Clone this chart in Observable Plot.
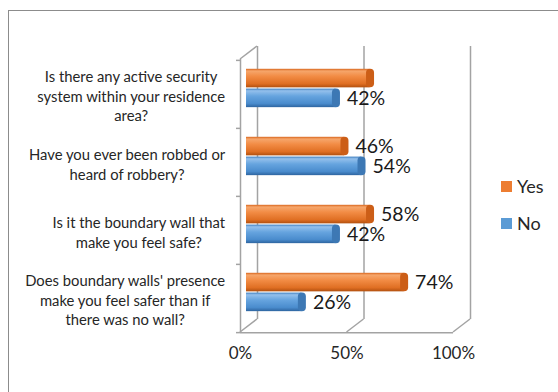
<!DOCTYPE html>
<html><head><meta charset="utf-8">
<script src="https://cdn.jsdelivr.net/npm/d3@7"></script>
<script src="https://cdn.jsdelivr.net/npm/@observablehq/plot@0.6"></script>
<style>
html,body{margin:0;padding:0;background:#fff;}
#wrap{position:relative;width:558px;height:392px;overflow:hidden;font-family:Lato,sans-serif;}
#border{position:absolute;left:8px;top:10px;width:700px;height:500px;border-left:1px solid #8c8c8c;border-top:1px solid #8c8c8c;}
#chart{position:absolute;left:0;top:0;}
.lg{position:absolute;left:501px;font-size:18px;color:#262626;display:flex;align-items:center;line-height:1;}
.lg .sw{width:11px;height:11px;display:inline-block;margin-right:5px;}
</style></head><body>
<div id="wrap"><div id="border"></div><div id="chart"></div><div id="legend"></div></div>
<script>
// ---- data ----
const categories = [
  "Is there any active security\nsystem within your residence\narea?",
  "Have you ever been robbed or\nheard of robbery?",
  "Is it the boundary wall that\nmake you feel safe?",
  "Does boundary walls' presence\nmake you feel safer than if\nthere was no wall?"
];
const series = ["Yes", "No"];
const yesValues = [0.58, 0.46, 0.58, 0.74];
const noValues  = [0.42, 0.54, 0.42, 0.26];
const yesLabelShown = [false, true, true, true];
const noLabelShown  = [true, true, true, true];
const xTicks = [0, 0.5, 1];
const seriesColors = {Yes: "#ED7D31", No: "#5B9BD5"};
const capColors = {Yes: "#cc5e17", No: "#3d78b4"};

// ---- layout ----
const W = 558, H = 392, ML = 240, MR = 105, MT = 59, MB = 60;
const DX = 17, DY = -13;            // 3D depth offset
const wall = "#a3a3a3";
const step = (H - MT - MB) / categories.length;
const fmt = d3.format(".0%");
const catPx = 14.8;
const catFont = catPx + "px Lato";

const rows = [];
categories.forEach((c, i) => {
  rows.push({question: c, series: "Yes", value: yesValues[i], shown: yesLabelShown[i]});
  rows.push({question: c, series: "No", value: noValues[i], shown: noLabelShown[i]});
});
const yesRows = rows.filter(d => d.series === "Yes");
const noRows = rows.filter(d => d.series === "No");

// bar geometry inside each band (front plane)
const yesInset = {insetTop: 15.3, insetBottom: 34.15};
const noInset = {insetTop: 35.1, insetBottom: 14.35};
const barShift = {dx: 6, dy: -6.5};

// measure widest line of each category label to center lines like Excel
const ctx = document.createElement("canvas").getContext("2d");
ctx.font = catFont;
const labelMarks = categories.map(c => {
  const w = d3.max(c.split("\n"), s => ctx.measureText(s).width);
  return Plot.text([c], {y: d => d, text: d => d, frameAnchor: "left", textAnchor: "middle",
    dx: -15 - w / 2, dy: 1, lineHeight: 1.32, fontSize: catPx, fill: "#262626"});
});

const last = categories[categories.length - 1];

const chart = Plot.plot({
  width: W, height: H, marginLeft: ML, marginRight: MR, marginTop: MT, marginBottom: MB,
  x: {domain: [0, 1], axis: null},
  y: {domain: categories, padding: 0, axis: null},
  style: {background: "transparent", fontFamily: "Lato, sans-serif", overflow: "visible"},
  marks: [
    // back wall verticals
    Plot.ruleX(xTicks, {stroke: wall, strokeWidth: 1.5, dx: DX, dy: DY}),
    // front left axis line
    Plot.ruleX([0], {stroke: wall, strokeWidth: 1.5}),
    // front bottom axis line
    Plot.ruleY([last], {y: d => d, x1: 0, x2: 1, dy: step / 2, stroke: wall, strokeWidth: 1.5}),
    // y tick marks at band boundaries
    Plot.ruleY(categories, {y: d => d, x1: 0, x2: 0, insetLeft: -4, dy: -step / 2, stroke: wall, strokeWidth: 1.5}),
    Plot.ruleY([last], {y: d => d, x1: 0, x2: 0, insetLeft: -4, dy: step / 2, stroke: wall, strokeWidth: 1.5}),
    // x tick marks
    Plot.ruleX(xTicks, {x: d => d, y: () => last, insetTop: step, insetBottom: -4, stroke: wall, strokeWidth: 1.5}),
    // bars
    Plot.barX(yesRows, {x: "value", y: "question", fill: "url(#gYes)", ...yesInset, ...barShift}),
    Plot.barX(noRows, {x: "value", y: "question", fill: "url(#gNo)", ...noInset, ...barShift}),
    // cylinder caps
    Plot.tickX(yesRows, {x: "value", y: "question", stroke: capColors.Yes, strokeWidth: 8, strokeLinecap: "round",
      insetTop: yesInset.insetTop + 4, insetBottom: yesInset.insetBottom + 4, ...barShift}),
    Plot.tickX(noRows, {x: "value", y: "question", stroke: capColors.No, strokeWidth: 8, strokeLinecap: "round",
      insetTop: noInset.insetTop + 4, insetBottom: noInset.insetBottom + 4, ...barShift}),
    // value labels
    Plot.text(yesRows.filter(d => d.shown), {x: "value", y: "question", text: d => fmt(d.value), textAnchor: "start",
      dx: 17, dy: -15.9, fontSize: 19.5, fill: "#1a1a1a"}),
    Plot.text(noRows.filter(d => d.shown), {x: "value", y: "question", text: d => fmt(d.value), textAnchor: "start",
      dx: 17, dy: 3.9, fontSize: 19.5, fill: "#1a1a1a"}),
    // x tick labels
    Plot.text(xTicks, {x: d => d, text: d => fmt(d), frameAnchor: "bottom", dy: 26, fontSize: 17, fill: "#262626"}),
    // category labels
    ...labelMarks
  ]
});

// gradients for cylinder look + depth diagonals
const svg = d3.select(chart);
const defs = svg.insert("defs", ":first-child");
function grad(id, stops) {
  const g = defs.append("linearGradient").attr("id", id).attr("x1", 0).attr("y1", 0).attr("x2", 0).attr("y2", 1);
  stops.forEach(([o, c]) => g.append("stop").attr("offset", o).attr("stop-color", c));
}
grad("gYes", [[0, "#d9661c"], [0.12, "#f6a66b"], [0.4, "#f28c45"], [0.8, "#e06f23"], [1, "#b2500f"]]);
grad("gNo", [[0, "#3f7fbf"], [0.12, "#94c0ec"], [0.4, "#66a4df"], [0.8, "#4a8ccd"], [1, "#2e65a0"]]);

const xs = chart.scale("x");
const x = d3.scaleLinear(xs.domain, xs.range);
const yTop = MT, yBot = H - MB;
const diag = [[0, yTop], [0, yBot], [0.5, yBot], [1, yBot]];
svg.append("g").attr("stroke", wall).attr("stroke-width", 1.5)
  .selectAll("line").data(diag).join("line")
  .attr("x1", d => x(d[0])).attr("y1", d => d[1])
  .attr("x2", d => x(d[0]) + DX).attr("y2", d => d[1] + DY);

document.getElementById("chart").append(chart);

// legend
const legend = document.getElementById("legend");
const legendTop = {Yes: 177, No: 214};
series.forEach(s => {
  const el = document.createElement("div");
  el.className = "lg";
  el.style.top = legendTop[s] + "px";
  el.innerHTML = `<span class="sw" style="background:${seriesColors[s]}"></span><span>${s}</span>`;
  legend.append(el);
});
</script>
</body></html>
